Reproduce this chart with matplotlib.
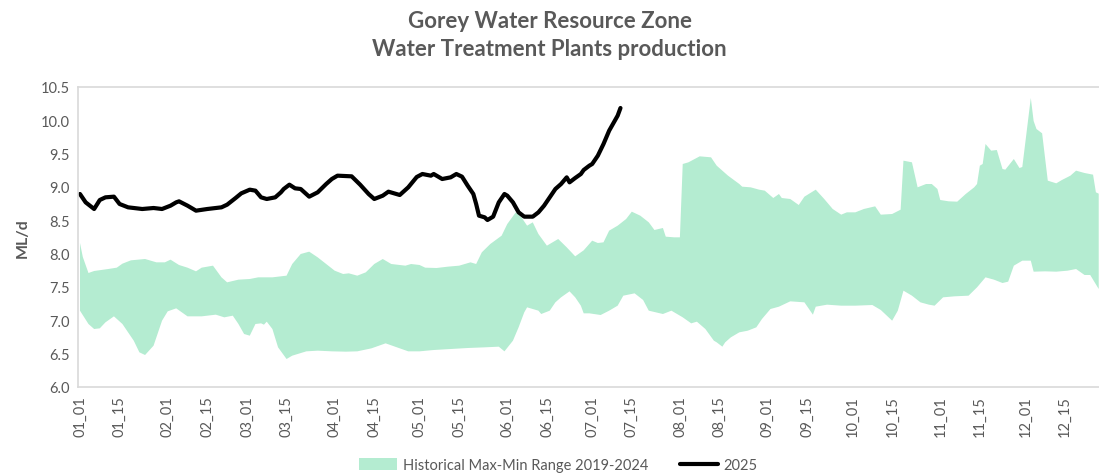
import matplotlib
matplotlib.use("Agg")
import matplotlib.pyplot as plt
import pandas as pd
import numpy as np

# day-of-year index (0 = 01_01) and ML/d values
max_days = [0, 1, 3, 5, 10, 13, 15, 18, 23, 27, 30, 32, 35, 38, 41, 43, 47, 50, 52, 56,
            60, 63, 68, 70, 73, 75, 78, 81, 84, 87, 90, 93, 95, 98, 101, 104, 107, 110, 115, 117,
            120, 122, 126, 130, 134, 138, 140, 142, 145, 149, 151, 154, 156, 158, 160, 162, 165, 169, 172, 175,
            178, 181, 183, 185, 187, 190, 193, 195, 198, 201, 203, 206, 207, 210, 212, 213, 215, 219, 223, 225,
            229, 233, 234, 237, 240, 242, 245, 247, 248, 251, 254, 256, 260, 263, 266, 269, 271, 274, 277, 281,
            283, 287, 290, 291, 294, 296, 299, 301, 303, 304, 307, 310, 313, 316, 317, 318, 319, 320, 322, 324,
            326, 327, 330, 332, 333, 336, 337, 338, 340, 342, 345, 347, 350, 352, 355, 358, 359, 360]
max_vals = [8.16, 7.95, 7.71, 7.74, 7.77, 7.79, 7.85, 7.90, 7.92, 7.87, 7.87, 7.91, 7.83, 7.79, 7.735, 7.79, 7.82, 7.645, 7.57, 7.61,
            7.62, 7.645, 7.645, 7.655, 7.67, 7.845, 7.995, 8.03, 7.945, 7.845, 7.745, 7.695, 7.705, 7.67, 7.72, 7.845, 7.92, 7.845, 7.82, 7.845,
            7.83, 7.79, 7.785, 7.805, 7.82, 7.87, 7.845, 8.02, 8.145, 8.27, 8.445, 8.62, 8.545, 8.42, 8.47, 8.295, 8.12, 8.22, 8.095, 7.96,
            8.05, 8.195, 8.16, 8.17, 8.345, 8.42, 8.52, 8.63, 8.57, 8.47, 8.355, 8.385, 8.255, 8.245, 8.245, 9.345, 9.37, 9.46, 9.445, 9.32,
            9.17, 9.045, 9.005, 8.995, 8.96, 8.945, 8.835, 8.895, 8.835, 8.82, 8.73, 8.855, 8.96, 8.82, 8.67, 8.585, 8.62, 8.62, 8.67, 8.71,
            8.585, 8.595, 8.66, 9.395, 9.37, 8.995, 9.045, 9.045, 8.97, 8.805, 8.785, 8.78, 8.895, 8.995, 9.045, 9.32, 9.345, 9.645, 9.545, 9.555,
            9.27, 9.26, 9.42, 9.285, 9.30, 10.335, 9.99, 9.87, 9.805, 9.095, 9.055, 9.105, 9.17, 9.245, 9.21, 9.185, 8.92, 8.90]

min_days = [0, 3, 5, 7, 9, 12, 15, 19, 21, 23, 26, 29, 31, 34, 38, 43, 48, 51, 54, 56,
            58, 60, 62, 64, 65, 66, 68, 70, 73, 75, 80, 84, 89, 94, 98, 103, 108, 112, 116, 120,
            125, 131, 137, 143, 148, 150, 153, 155, 157, 158, 160, 162, 163, 166, 168, 170, 173, 175, 177, 178,
            180, 184, 187, 190, 192, 196, 199, 201, 206, 209, 213, 216, 218, 221, 224, 225, 227, 228, 230, 233,
            236, 239, 241, 244, 247, 251, 256, 259, 260, 264, 269, 274, 280, 283, 287, 289, 291, 294, 297, 300,
            302, 305, 309, 314, 317, 320, 323, 326, 328, 330, 333, 336, 337, 341, 345, 349, 352, 355, 357, 360]
min_vals = [7.145, 6.945, 6.87, 6.88, 6.97, 7.06, 6.945, 6.695, 6.52, 6.48, 6.62, 6.995, 7.135, 7.18, 7.06, 7.06, 7.085, 7.045, 7.07, 6.945,
            6.795, 6.77, 6.945, 6.955, 6.935, 6.98, 6.87, 6.595, 6.42, 6.47, 6.535, 6.545, 6.535, 6.53, 6.535, 6.58, 6.655, 6.595, 6.535, 6.535,
            6.555, 6.57, 6.585, 6.595, 6.605, 6.535, 6.695, 6.895, 7.12, 7.195, 7.17, 7.145, 7.095, 7.145, 7.27, 7.345, 7.435, 7.345, 7.22, 7.105,
            7.105, 7.08, 7.145, 7.22, 7.37, 7.405, 7.305, 7.145, 7.095, 7.145, 7.045, 6.955, 6.98, 6.87, 6.695, 6.67, 6.605, 6.67, 6.745, 6.82,
            6.845, 6.895, 7.02, 7.17, 7.205, 7.285, 7.27, 7.085, 7.205, 7.235, 7.22, 7.22, 7.23, 7.155, 6.995, 7.145, 7.445, 7.37, 7.27, 7.235,
            7.22, 7.345, 7.36, 7.37, 7.495, 7.645, 7.61, 7.56, 7.58, 7.82, 7.895, 7.895, 7.73, 7.735, 7.73, 7.745, 7.77, 7.68, 7.68, 7.47]

days_2025 = [0, 2, 5, 7, 9, 12, 14, 17, 22, 26, 29, 32, 34, 35, 38, 41, 45, 50, 52, 55,
             57, 60, 62, 64, 66, 69, 71, 72, 74, 76, 78, 81, 84, 87, 89, 91, 96, 99, 102, 104,
             107, 109, 113, 116, 119, 121, 124, 125, 128, 131, 133, 135, 137, 139, 140, 141, 143, 144, 146, 148,
             150, 151, 153, 155, 157, 160, 162, 164, 166, 168, 170, 172, 173, 175, 177, 178, 180, 181, 183, 185,
             187, 189, 190, 191]
vals_2025 = [8.895, 8.77, 8.67, 8.805, 8.845, 8.855, 8.745, 8.695, 8.67, 8.685, 8.67, 8.72, 8.77, 8.785, 8.72, 8.645, 8.67, 8.695, 8.735, 8.835,
             8.905, 8.96, 8.945, 8.845, 8.82, 8.845, 8.92, 8.97, 9.035, 8.98, 8.97, 8.855, 8.92, 9.045, 9.12, 9.17, 9.16, 9.035, 8.895, 8.82,
             8.87, 8.93, 8.88, 8.995, 9.15, 9.195, 9.17, 9.195, 9.12, 9.145, 9.195, 9.155, 9.02, 8.895, 8.745, 8.57, 8.545, 8.505, 8.555, 8.77,
             8.895, 8.87, 8.77, 8.62, 8.555, 8.555, 8.62, 8.72, 8.845, 8.97, 9.045, 9.145, 9.07, 9.135, 9.195, 9.255, 9.32, 9.345, 9.47, 9.645,
             9.845, 9.995, 10.07, 10.185]

grey = '#595959'
fill_col = '#b4ecd1'


def main():
    plt.rcParams['font.family'] = ['Lato', 'DejaVu Sans']

    dates = pd.date_range('2025-01-01', '2025-12-31')
    tick_pos = [i for i, d in enumerate(dates) if d.day in (1, 15)]
    tick_lab = [dates[i].strftime('%m_%d') for i in tick_pos]

    fig = plt.figure(figsize=(10.99, 4.77), dpi=100)
    ax = fig.add_axes([78 / 1099, 89 / 477, 1 - 78 / 1099, 300 / 477])

    poly_x = np.concatenate([max_days, min_days[::-1]])
    poly_y = np.concatenate([max_vals, min_vals[::-1]])
    ax.fill(poly_x, poly_y, color=fill_col, lw=0, label='Historical Max-Min Range 2019-2024')
    ax.plot(days_2025, vals_2025, color='black', lw=3.0, label='2025',
            solid_capstyle='round', solid_joinstyle='round')

    ax.set_xlim(-0.7, 360.1)
    ax.set_ylim(6.0, 10.5)
    ax.set_yticks(np.arange(6.0, 10.51, 0.5))
    ax.set_yticklabels([f'{v:.1f}' for v in np.arange(6.0, 10.51, 0.5)])
    ax.set_xticks(tick_pos)
    ax.set_xticklabels(tick_lab, rotation=90)
    ax.tick_params(length=0, labelsize=10.5, colors=grey, pad=6)

    for s in ['left', 'top', 'bottom']:
        ax.spines[s].set_color('#d9d9d9')
        ax.spines[s].set_linewidth(1.2)
    ax.spines['right'].set_visible(False)

    ax.set_ylabel('ML/d', fontsize=11.5, fontweight='bold', color=grey, labelpad=8)

    fig.text(0.5, 1 - 22 / 477, 'Gorey Water Resource Zone', ha='center', va='center',
             fontsize=16, fontweight='bold', color=grey)
    fig.text(0.5, 1 - 50 / 477, 'Water Treatment Plants production', ha='center', va='center',
             fontsize=16, fontweight='bold', color=grey)

    leg = fig.legend(loc='center', bbox_to_anchor=(0.508, 1 - 466 / 477), ncol=2, frameon=False,
                     fontsize=10.5, handlelength=2.6, handleheight=0.8, columnspacing=2.2,
                     handletextpad=0.4)
    for t in leg.get_texts():
        t.set_color(grey)

    fig.savefig('out.png', dpi=100)


if __name__ == "__main__":
    main()
